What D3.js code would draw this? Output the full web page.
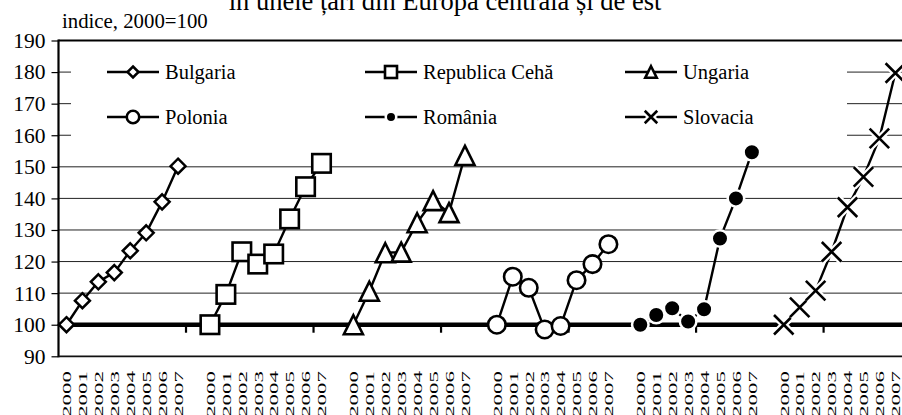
<!DOCTYPE html>
<html>
<head>
<meta charset="utf-8">
<script src="https://cdn.jsdelivr.net/npm/d3@7"></script>
<style>
  html, body { margin: 0; padding: 0; background: #fff; }
  svg { display: block; }
  svg text { font-family: "Liberation Serif", "DejaVu Serif", serif; fill: #000; }
</style>
</head>
<body>
<svg id="chart" width="902" height="415"></svg>
<script>
// Growth index (2000 = 100) for six Central and Eastern European countries, 2000-2007
const years = ["2000", "2001", "2002", "2003", "2004", "2005", "2006", "2007"];
const countries = ["Bulgaria", "Republica Cehă", "Ungaria", "Polonia", "România", "Slovacia"];

const bulgaria = [100, 107.6, 113.6, 116.5, 123.4, 129.1, 138.9, 150.2];
const cehia    = [100, 109.6, 123.1, 119.2, 122.4, 133.5, 143.7, 151.1];
const ungaria  = [100, 110.6, 122.8, 123.0, 132.3, 139.3, 135.5, 153.6];
const polonia  = [100, 115.2, 111.7, 98.5, 99.6, 114.1, 119.2, 125.5];
const romania  = [100, 103.1, 105.2, 101.0, 104.9, 127.3, 140.0, 154.6];
const slovacia = [100, 105.5, 110.8, 123.1, 137.2, 146.8, 159.0, 179.7];

const yTicks = [90, 100, 110, 120, 130, 140, 150, 160, 170, 180, 190];
const title = "în unele țări din Europa centrală și de est";
const unitLabel = "indice, 2000=100";

const seriesValues = [bulgaria, cehia, ungaria, polonia, romania, slovacia];
const markerKinds = ["diamond", "square", "triangle", "circle", "dot", "cross"];

// Category axis: each country occupies 8 slots, with one empty slot between countries
const slots = [];
countries.forEach((c, gi) => {
  years.forEach(y => slots.push({ key: gi + "-" + y, label: y }));
  if (gi < countries.length - 1) slots.push({ key: "gap" + gi, label: "" });
});

const svg = d3.select("#chart");
const plot = { left: 58.5, right: 903.3, top: 40.5, bottom: 356.3 };

const x = d3.scaleBand().domain(slots.map(s => s.key)).range([plot.left, plot.right]).padding(0);
const y = d3.scaleLinear().domain([90, 190]).range([plot.bottom, plot.top]);
const cx = key => x(key) + x.bandwidth() / 2;

// Title (sits partly above the visible area)
svg.append("text")
  .attr("x", 445).attr("y", 9.5)
  .attr("text-anchor", "middle")
  .attr("font-size", 26.5)
  .text(title);

svg.append("text")
  .attr("x", 62).attr("y", 28)
  .attr("font-size", 20.8)
  .text(unitLabel);

// Horizontal gridlines
svg.append("g")
  .selectAll("line")
  .data(yTicks.filter(v => v > 100 && v < 190))
  .join("line")
  .attr("x1", plot.left).attr("x2", plot.right)
  .attr("y1", d => y(d)).attr("y2", d => y(d))
  .attr("stroke", "#222").attr("stroke-width", 1);

// Legend background hides the gridlines behind it
svg.append("rect")
  .attr("x", 71).attr("y", 50).attr("width", 776).attr("height", 95)
  .attr("fill", "#fff");

// Value axis
const yAxis = svg.append("g")
  .attr("transform", `translate(${plot.left},0)`)
  .call(d3.axisLeft(y).tickValues(yTicks).tickSize(7).tickPadding(6).tickFormat(d3.format("d")));
yAxis.attr("font-family", null);
yAxis.select(".domain").remove();
yAxis.selectAll(".tick line").attr("stroke", "#000").attr("stroke-width", 1.2);
yAxis.selectAll(".tick text").attr("font-size", 21.5).attr("fill", "#000");

// Plot frame
svg.append("line").attr("x1", plot.left).attr("x2", plot.left).attr("y1", plot.top - 1).attr("y2", plot.bottom + 1)
  .attr("stroke", "#000").attr("stroke-width", 2.2);
svg.append("line").attr("x1", plot.left).attr("x2", plot.right).attr("y1", plot.top).attr("y2", plot.top)
  .attr("stroke", "#000").attr("stroke-width", 2.2);
svg.append("line").attr("x1", plot.left).attr("x2", plot.right).attr("y1", plot.bottom).attr("y2", plot.bottom)
  .attr("stroke", "#111").attr("stroke-width", 1.8);

// Category axis crossing at 100
const axisY = y(100);
svg.append("line")
  .attr("x1", plot.left).attr("x2", plot.right)
  .attr("y1", axisY).attr("y2", axisY)
  .attr("stroke", "#000").attr("stroke-width", 4.5);

// Tick marks every 8 categories
const tickKeys = slots.filter((s, i) => i > 0 && i % 8 === 0).map(s => s.key);
svg.append("g").selectAll("line")
  .data(tickKeys)
  .join("line")
  .attr("x1", d => x(d)).attr("x2", d => x(d))
  .attr("y1", axisY).attr("y2", axisY + 8)
  .attr("stroke", "#000").attr("stroke-width", 2.2);

// Category labels (rotated)
svg.append("g").selectAll("text")
  .data(slots.filter(s => s.label))
  .join("text")
  .attr("transform", d => `translate(${cx(d.key) + 4.8},371) rotate(-90)`)
  .attr("text-anchor", "end")
  .attr("font-size", 13.5)
  .attr("textLength", 46)
  .attr("lengthAdjust", "spacingAndGlyphs")
  .text(d => d.label);

// Marker drawing
function drawMarker(g, kind, px, py, s) {
  if (kind === "diamond") {
    const r = s * 0.5;
    g.append("path")
      .attr("d", `M${px},${py - r}L${px + r},${py}L${px},${py + r}L${px - r},${py}Z`)
      .attr("fill", "#fff").attr("stroke", "#000").attr("stroke-width", 2.5);
  } else if (kind === "square") {
    g.append("rect")
      .attr("x", px - s / 2).attr("y", py - s / 2).attr("width", s).attr("height", s)
      .attr("fill", "#fff").attr("stroke", "#000").attr("stroke-width", 2.6);
  } else if (kind === "triangle") {
    const h = s / 2;
    g.append("path")
      .attr("d", `M${px},${py - h}L${px + h},${py + h}L${px - h},${py + h}Z`)
      .attr("fill", "#fff").attr("stroke", "#000").attr("stroke-width", 2.6)
      .attr("stroke-linejoin", "miter");
  } else if (kind === "circle") {
    g.append("circle").attr("cx", px).attr("cy", py).attr("r", s / 2)
      .attr("fill", "#fff").attr("stroke", "#000").attr("stroke-width", 2.6);
  } else if (kind === "dot") {
    g.append("circle").attr("cx", px).attr("cy", py).attr("r", s / 2 + 1)
      .attr("fill", "#000").attr("stroke", "#fff").attr("stroke-width", 2.5);
  } else if (kind === "cross") {
    const r = s / 2;
    const d = `M${px - r},${py - r}L${px + r},${py + r}M${px + r},${py - r}L${px - r},${py + r}`;
    g.append("path").attr("d", d).attr("stroke", "#fff").attr("stroke-width", 7).attr("fill", "none");
    g.append("path").attr("d", d).attr("stroke", "#000").attr("stroke-width", 2.6).attr("fill", "none");
  }
}

const markerSize = { diamond: 15, square: 18.5, triangle: 19, circle: 17.5, dot: 14.5, cross: 19.5 };
const legendMarkerSize = { diamond: 11, square: 12, triangle: 11.5, circle: 12.5, dot: 8.5, cross: 12.5 };

// Series lines
const line = d3.line().x(d => d.px).y(d => d.py);
const seriesPts = seriesValues.map((vals, gi) =>
  vals.map((v, i) => ({ px: cx(gi + "-" + years[i]), py: y(v) })));

svg.append("g").selectAll("path")
  .data(seriesPts)
  .join("path")
  .attr("d", line)
  .attr("fill", "none").attr("stroke", "#000").attr("stroke-width", 2.4);

// Series markers
const markerLayer = svg.append("g");
seriesPts.forEach((pts, gi) => {
  pts.forEach(p => drawMarker(markerLayer, markerKinds[gi], p.px, p.py, markerSize[markerKinds[gi]]));
});

// Legend
const legendCols = [133, 391, 651];
const legendRows = [72, 117];
const legend = svg.append("g");
countries.forEach((name, i) => {
  const mx = legendCols[i % 3];
  const my = legendRows[Math.floor(i / 3)];
  legend.append("line")
    .attr("x1", mx - 26).attr("x2", mx + 26).attr("y1", my).attr("y2", my)
    .attr("stroke", "#000").attr("stroke-width", 2.4);
  drawMarker(legend, markerKinds[i], mx, my, legendMarkerSize[markerKinds[i]]);
  legend.append("text")
    .attr("x", mx + 32).attr("y", my + 7)
    .attr("font-size", 20.5)
    .text(name);
});
</script>
</body>
</html>
